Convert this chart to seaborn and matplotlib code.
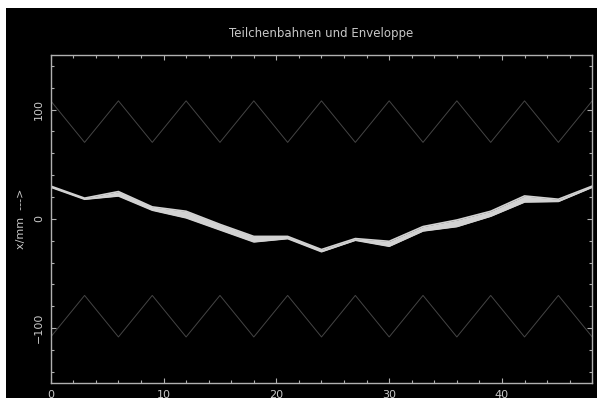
import numpy as np
import pandas as pd
import matplotlib
matplotlib.use("Agg")
import matplotlib.pyplot as plt
import seaborn as sns
from matplotlib.patches import Rectangle
from matplotlib.ticker import MultipleLocator

# stations along the beam line (every 3 units)
s = [0, 3, 6, 9, 12, 15, 18, 21, 24, 27, 30, 33, 36, 39, 42, 45, 48]

# aperture (zigzag envelope) top and bottom
env_top = [108, 70, 108, 70, 108, 70, 108, 70, 108, 70, 108, 70, 108, 70, 108, 70, 108]
env_bot = [-108, -70, -108, -70, -108, -70, -108, -70, -108, -70, -108, -70, -108, -70, -108, -70, -108]

# particle trajectory bundle, upper and lower edge
traj_hi = [30, 19, 25, 11, 7, -5, -16, -16, -28, -18, -20.5, -7, -1, 7, 21, 18, 30]
traj_lo = [29, 18, 21, 8, 1, -10, -21, -18, -30, -19.5, -25, -11, -7, 2.5, 15.5, 16, 29]

df = pd.DataFrame({"s": s, "top": env_top, "bot": env_bot, "hi": traj_hi, "lo": traj_lo})

sns.set_theme(style="ticks")
plt.rcParams["font.family"] = ["DejaVu Sans"]

fg = "#c8c8c8"
spine_col = "#b0b0b0"
band_col = "#d2d2d2"
env_col = "#454545"

fig = plt.figure(figsize=(5.97, 3.98), dpi=100, facecolor="white")
# black canvas, leaving the thin white strip at top and left
fig.patches.append(Rectangle((6 / 597, 0), 1, 1 - 8 / 398, transform=fig.transFigure,
                             facecolor="black", edgecolor="none", zorder=-10))
ax = fig.add_axes([0.085, 0.038, 0.907, 0.824])
ax.set_facecolor("black")

sns.lineplot(data=df, x="s", y="top", ax=ax, color=env_col, lw=0.7)
sns.lineplot(data=df, x="s", y="bot", ax=ax, color=env_col, lw=0.7)
ax.fill_between(df["s"], df["lo"], df["hi"], color=band_col, lw=0)
sns.lineplot(data=df, x="s", y="hi", ax=ax, color=band_col, lw=1.2)
sns.lineplot(data=df, x="s", y="lo", ax=ax, color=band_col, lw=1.2)

ax.set_xlim(0, 48)
ax.set_ylim(-150, 150)
ax.xaxis.set_major_locator(MultipleLocator(10))
ax.xaxis.set_minor_locator(MultipleLocator(2))
ax.yaxis.set_major_locator(MultipleLocator(100))
ax.yaxis.set_minor_locator(MultipleLocator(20))

for sp in ax.spines.values():
    sp.set_visible(True)
    sp.set_color(spine_col)
    sp.set_linewidth(1.0)

ax.tick_params(which="both", direction="in", top=True, right=True,
               color=spine_col, labelcolor=fg, labelsize=8, width=0.8)
ax.tick_params(which="major", length=3.5)
ax.tick_params(which="minor", length=2.5)
ax.tick_params(axis="x", pad=5)
ax.tick_params(axis="y", pad=5, labelrotation=90)
for lab in ax.get_yticklabels():
    lab.set_verticalalignment("center")

ax.set_xlabel("")
ax.set_ylabel("x/mm  --->", color=fg, fontsize=8)
ax.yaxis.set_label_coords(-0.046, 0.5)
ax.set_title("Teilchenbahnen und Enveloppe", color=fg, fontsize=8.5, pad=13)

fig.savefig("out.png", dpi=100, facecolor=fig.get_facecolor())
